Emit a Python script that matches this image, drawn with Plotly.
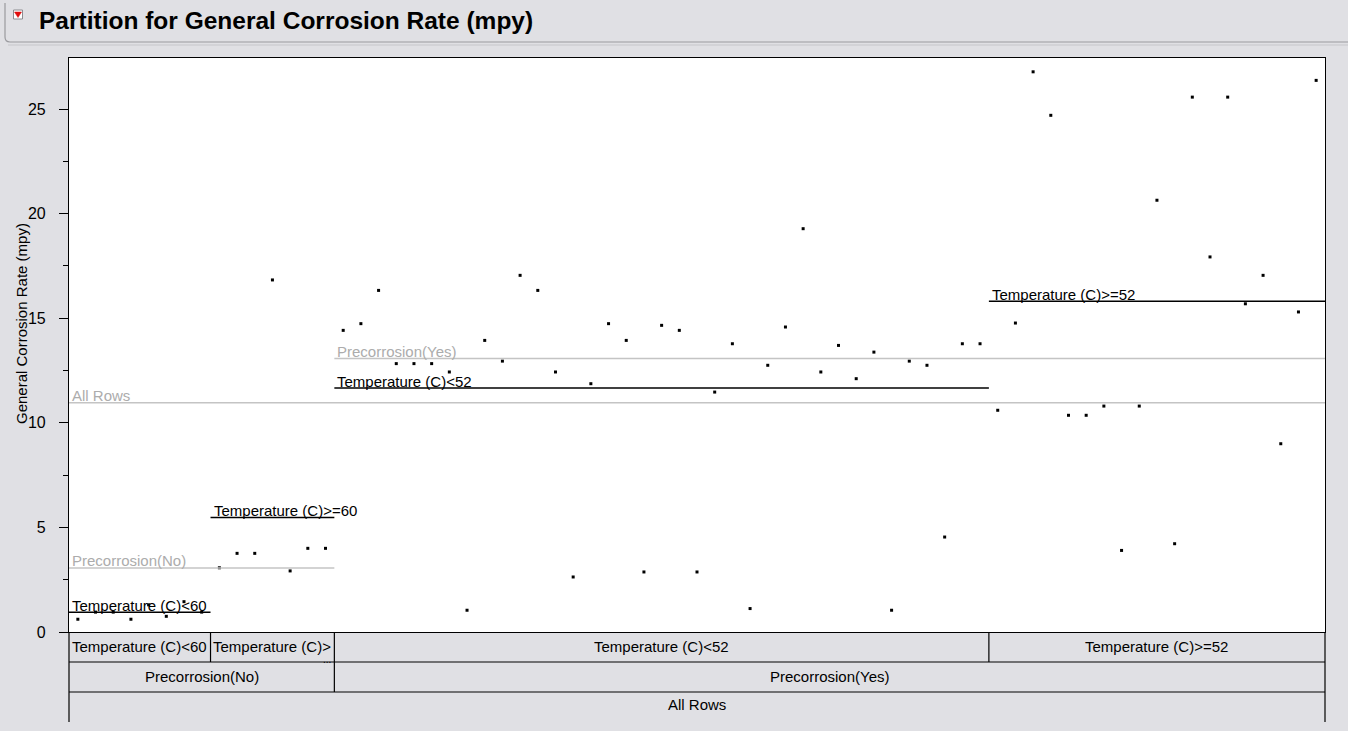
import plotly.graph_objects as go

# ---- data: General Corrosion Rate (mpy), grouped by partition leaf, in row order ----
leaf_names = ["Temperature (C)<60", "Temperature (C)>=60", "Temperature (C)<52", "Temperature (C)>=52"]
leaf_cells = ["Temperature (C)<60", "Temperature (C)>", "Temperature (C)<52", "Temperature (C)>=52"]
split_names = ["Precorrosion(No)", "Precorrosion(Yes)"]
root_name = "All Rows"

rate_t_lt60 = [0.61, 0.95, 0.95, 0.61, 1.30, 0.75, 1.45, 0.95]
rate_t_ge60 = [3.07, 3.76, 3.76, 16.83, 2.92, 4.00, 4.00]
rate_t_lt52 = [14.42, 14.74, 16.33, 12.83, 12.83, 12.83, 12.43, 1.04, 13.94, 12.95,
               17.05, 16.33, 12.43, 2.63, 11.87, 14.74, 13.94, 2.87, 14.66, 14.42,
               2.87, 11.47, 13.78, 1.12, 12.75, 14.58, 19.28, 12.43, 13.70, 12.11,
               13.38, 1.04, 12.95, 12.75, 4.54, 13.78, 13.78]
rate_t_ge52 = [10.60, 14.77, 26.78, 24.70, 10.36, 10.36, 10.80, 3.90, 10.80, 20.64,
               4.22, 25.57, 17.93, 25.57, 15.69, 17.05, 9.00, 15.30, 26.37]

y_ticks = [0, 5, 10, 15, 20, 25]
y_max = 27.44

leaves = [rate_t_lt60, rate_t_ge60, rate_t_lt52, rate_t_ge52]

# ---- page geometry (pixels) ----
W, H = 1348, 731
L, R, T, B = 69, 1325, 58, 632
ROW = 30
FONT = "Liberation Sans, Arial, sans-serif"

def px_x(p):
    return (p - L) / (R - L)

def px_y(p):
    return (B - p) / (B - T)

def mean(v):
    return sum(v) / len(v)

# row positions along the x axis
counts = [len(v) for v in leaves]
total = sum(counts)
starts = [sum(counts[:i]) for i in range(len(counts))]
ends = [s + c for s, c in zip(starts, counts)]

xs, ys = [], []
for s, v in zip(starts, leaves):
    for j, val in enumerate(v):
        xs.append(s + j + 0.5)
        ys.append(val)

fig = go.Figure()
fig.add_trace(go.Scatter(
    x=xs, y=ys, mode="markers",
    marker=dict(symbol="square", size=3, color="black", line=dict(width=0)),
    hoverinfo="y", showlegend=False,
))

shapes = []
annotations = []
txt_font = dict(family=FONT, size=15, color="black")
gray_font = dict(family=FONT, size=15, color="#acacac")

def level_line(x0, x1, yv, color, label, font):
    shapes.append(dict(type="line", xref="x", yref="y", x0=x0, x1=x1, y0=yv, y1=yv,
                       line=dict(color=color, width=1.5)))
    annotations.append(dict(xref="x", yref="y", x=x0, y=yv, text=label, showarrow=False,
                            xanchor="left", yanchor="bottom", xshift=1, yshift=-3.5,
                            font=font))

# root and first split (gray)
all_vals = [v for leaf in leaves for v in leaf]
level_line(0, total, mean(all_vals), "#c4c4c4", root_name, gray_font)
no_vals = rate_t_lt60 + rate_t_ge60
yes_vals = rate_t_lt52 + rate_t_ge52
level_line(starts[0], ends[1], mean(no_vals), "#c4c4c4", split_names[0], gray_font)
level_line(starts[2], ends[3], mean(yes_vals), "#c4c4c4", split_names[1], gray_font)

# leaves (black)
for name, s, e, v in zip(leaf_names, starts, ends, leaves):
    level_line(s, e, mean(v), "black", name, txt_font)

# ---- tree table under the plot ----
line_k = dict(color="black", width=1.2)
for k in (1, 2):
    yy = px_y(B + ROW * k)
    shapes.append(dict(type="line", xref="paper", yref="paper", x0=0, x1=1, y0=yy, y1=yy, line=line_k))
bottom = px_y(B + ROW * 3)
shapes.append(dict(type="line", xref="paper", yref="paper", x0=0, x1=0, y0=0, y1=bottom, line=line_k))
shapes.append(dict(type="line", xref="paper", yref="paper", x0=1, x1=1, y0=0, y1=bottom, line=line_k))
for e in ends[:-1]:
    xe = e / total
    y_low = px_y(B + ROW * 2) if e == ends[1] else px_y(B + ROW)
    shapes.append(dict(type="line", xref="paper", yref="paper", x0=xe, x1=xe, y0=0, y1=y_low, line=line_k))

for label, s, e in zip(leaf_cells, starts, ends):
    annotations.append(dict(xref="paper", yref="paper", x=(s + e) / 2 / total, y=px_y(B + 14),
                            text=label, showarrow=False, xanchor="center", yanchor="middle", font=txt_font))
annotations.append(dict(xref="paper", yref="paper", x=ends[1] / total, y=px_y(B + ROW - 3),
                        text="...", showarrow=False, xanchor="right", yanchor="middle",
                        xshift=-1, font=dict(family=FONT, size=10, color="black")))
annotations.append(dict(xref="paper", yref="paper", x=(starts[0] + ends[1]) / 2 / total,
                        y=px_y(B + ROW + 14), text=split_names[0], showarrow=False,
                        xanchor="center", yanchor="middle", font=txt_font))
annotations.append(dict(xref="paper", yref="paper", x=(starts[2] + ends[3]) / 2 / total,
                        y=px_y(B + ROW + 14), text=split_names[1], showarrow=False,
                        xanchor="center", yanchor="middle", font=txt_font))
annotations.append(dict(xref="paper", yref="paper", x=0.5, y=px_y(B + ROW * 2 + 12),
                        text=root_name, showarrow=False, xanchor="center", yanchor="middle", font=txt_font))

# ---- y-axis title ----
annotations.append(dict(xref="paper", yref="paper", x=px_x(21), y=px_y(324),
                        text="General Corrosion Rate (mpy)", textangle=-90, showarrow=False,
                        xanchor="center", yanchor="middle", font=dict(family=FONT, size=15, color="black")))

# ---- report header ----
shapes.append(dict(type="path", xref="paper", yref="paper",
                   path=f"M {px_x(5)},{px_y(3)} L {px_x(5)},{px_y(37)} Q {px_x(5)},{px_y(42)} {px_x(10)},{px_y(42)} L {px_x(1348)},{px_y(42)}",
                   line=dict(color="#9a9a9e", width=1.2)))
shapes.append(dict(type="line", xref="paper", yref="paper", x0=px_x(8), x1=px_x(1348),
                   y0=px_y(45), y1=px_y(45), line=dict(color="#c6c6ca", width=1.2)))
shapes.append(dict(type="rect", xref="paper", yref="paper", x0=px_x(13.5), x1=px_x(22.5),
                   y0=px_y(10), y1=px_y(19), fillcolor="white", line=dict(color="#8c8c90", width=1)))
shapes.append(dict(type="path", xref="paper", yref="paper",
                   path=f"M {px_x(14.5)},{px_y(12)} L {px_x(21.5)},{px_y(12)} L {px_x(18)},{px_y(17.5)} Z",
                   fillcolor="#e00d0d", line=dict(color="#e00d0d", width=0.5)))
annotations.append(dict(xref="paper", yref="paper", x=px_x(37), y=px_y(21),
                        text="<b>Partition for General Corrosion Rate (mpy)</b>", showarrow=False,
                        xanchor="left", yanchor="middle",
                        font=dict(family=FONT, size=24.5, color="black")))

fig.update_layout(
    width=W, height=H,
    margin=dict(l=L, r=W - R, t=T, b=H - B, pad=0),
    paper_bgcolor="#e0e0e4",
    plot_bgcolor="white",
    shapes=shapes,
    annotations=annotations,
    showlegend=False,
    xaxis=dict(range=[0, total], showgrid=False, zeroline=False, showticklabels=False,
               ticks="", showline=True, mirror=True, linecolor="black", linewidth=1.2, fixedrange=True),
    yaxis=dict(range=[0, y_max], tickvals=y_ticks, ticktext=[str(t) for t in y_ticks],
               showgrid=False, zeroline=False, ticks="outside", ticklen=9, tickcolor="black",
               minor=dict(dtick=2.5, tick0=0, ticks="outside", ticklen=5, tickcolor="black"),
               showline=True, mirror=True, linecolor="black", linewidth=1.2,
               tickfont=dict(family=FONT, size=16, color="black"),
               ticklabelstandoff=10, fixedrange=True),
)

fig.write_html("out.html", config={"displayModeBar": False})
